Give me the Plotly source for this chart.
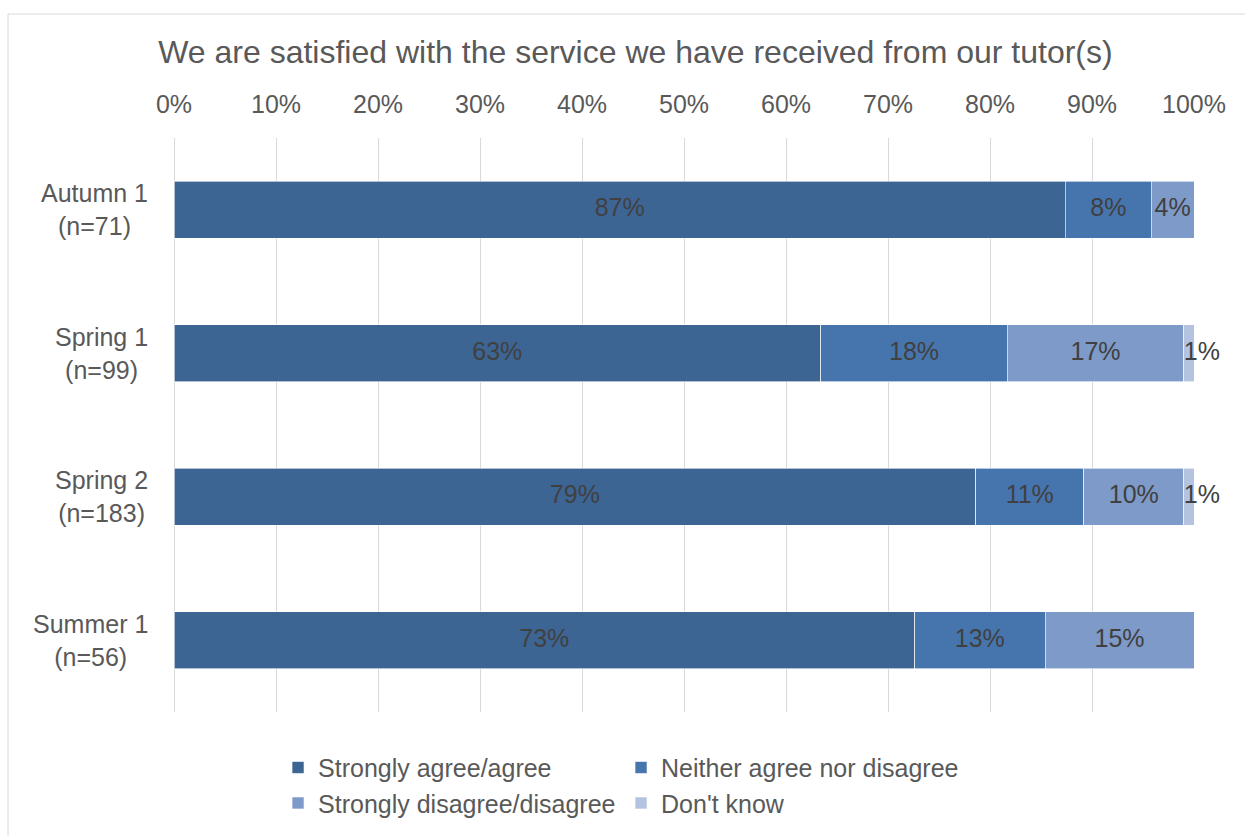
import plotly.graph_objects as go

# Survey periods and respondent counts
periods = ["Autumn 1", "Spring 1", "Spring 2", "Summer 1"]
respondents = [71, 99, 183, 56]

# Response shares (%) per period
agree = [87.4, 63.4, 78.6, 72.6]
neither = [8.4, 18.3, 10.6, 12.8]
disagree = [4.2, 17.3, 9.8, 14.6]
dont_know = [None, 1.0, 1.0, None]

series_names = [
    "Strongly agree/agree",
    "Neither agree nor disagree",
    "Strongly disagree/disagree",
    "Don't know",
]
series_colors = ["#3D6594", "#4675AD", "#7E9AC8", "#B4C3E0"]
x_ticks = list(range(0, 101, 10))
x_tick_labels = [f"{v}%" for v in x_ticks]

title_text = "We are satisfied with the service we have received from our tutor(s)"

FONT = "Liberation Sans, Arial, sans-serif"
TEXT_GREY = "#595959"
LABEL_GREY = "#404040"

categories = [f"{p}<br>(n={n})" for p, n in zip(periods, respondents)]
all_series = [agree, neither, disagree, dont_know]

fig = go.Figure()
for name, vals, col in zip(series_names, all_series, series_colors):
    fig.add_trace(go.Bar(
        name=name,
        y=categories,
        x=vals,
        orientation="h",
        marker=dict(color=col, line=dict(color="white", width=0.6)),
        hoverinfo="skip",
    ))

# Data labels: centred on each segment; the last (thin) segment's label
# starts at the segment's left edge and runs past the bar end.
running = [0.0] * len(categories)
for k, vals in enumerate(all_series):
    last = k == len(all_series) - 1
    xs, ys, vs = [], [], []
    for i, v in enumerate(vals):
        if v is None:
            continue
        xs.append(running[i] if last else running[i] + v / 2)
        ys.append(categories[i])
        vs.append(v)
        running[i] += v
    fig.add_trace(go.Scatter(
        x=xs, y=ys, customdata=vs,
        mode="text",
        texttemplate="%{customdata:.0f}%",
        textposition="middle right" if last else "middle center",
        textfont=dict(family=FONT, size=25, color=LABEL_GREY),
        showlegend=False,
        hoverinfo="skip",
        cliponaxis=False,
    ))

# Category labels, centred line by line beside each bar
for cat in categories:
    fig.add_annotation(
        x=-0.024, xref="paper", y=cat, yref="y",
        text=cat, showarrow=False, xanchor="right", yanchor="middle",
        align="center", font=dict(family=FONT, size=25, color=TEXT_GREY),
    )

# Chart frame
fig.add_shape(
    type="rect", xref="paper", yref="paper",
    x0=-0.1627, x1=1.2, y0=-0.4, y1=1.216,
    line=dict(color="#D9D9D9", width=1), fillcolor="rgba(0,0,0,0)", layer="below",
)

fig.update_layout(
    width=1245,
    height=836,
    barmode="stack",
    bargap=0.6,
    paper_bgcolor="white",
    plot_bgcolor="white",
    margin=dict(l=174, r=51, t=138, b=124, autoexpand=False),
    title=dict(
        text=title_text,
        x=0.5104, xref="container", xanchor="center",
        y=1 - 52 / 836, yref="container", yanchor="middle",
        font=dict(family=FONT, size=32, color=TEXT_GREY),
    ),
    xaxis=dict(
        side="top",
        range=[0, 100],
        tickmode="array",
        tickvals=x_ticks,
        ticktext=x_tick_labels,
        showgrid=True,
        gridcolor="#D9D9D9",
        gridwidth=1.3,
        zeroline=True,
        zerolinecolor="#D9D9D9",
        zerolinewidth=1.3,
        showline=False,
        ticks="",
        ticklabelstandoff=19,
        tickfont=dict(family=FONT, size=25, color=TEXT_GREY),
        fixedrange=True,
    ),
    yaxis=dict(
        autorange="reversed",
        showticklabels=False,
        showgrid=False,
        zeroline=False,
        ticks="",
        fixedrange=True,
    ),
    legend=dict(
        orientation="h",
        x=0.102, xanchor="left",
        y=-0.057, yanchor="top",
        entrywidth=298,
        entrywidthmode="pixels",
        font=dict(family=FONT, size=25, color=TEXT_GREY),
        traceorder="normal",
        bgcolor="rgba(0,0,0,0)",
    ),
    showlegend=True,
)

fig.write_html("out.html")
